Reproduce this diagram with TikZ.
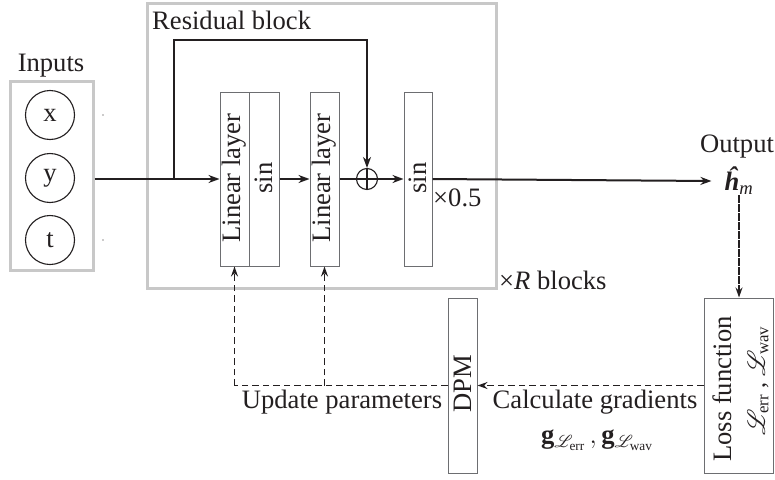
\RequirePackage{fix-cm}
\documentclass[tikz,border=0pt]{standalone}
\usepackage{fontspec}
\setmainfont{Liberation Serif}
\usepackage{amsmath}
\usepackage{mathrsfs}
\usetikzlibrary{arrows.meta,calc}
\definecolor{ink}{HTML}{231F20}
\definecolor{framegray}{HTML}{C8C8C8}
\definecolor{boxline}{HTML}{6D6E71}
\begin{document}
\begin{tikzpicture}[x=1pt,y=-1pt,
  font=\fontsize{26.6pt}{31pt}\selectfont,
  lay/.style={draw=boxline, line width=1pt, minimum width=29pt, minimum height=174pt, inner sep=0pt},
  gframe/.style={draw=framegray, line width=3pt, inner sep=0pt},
  incirc/.style={circle, draw=ink, line width=1.1pt, minimum size=49pt, inner sep=0pt, text=ink},
  conn/.style={draw=ink, line width=2pt, -{Stealth[length=11pt,width=8pt]}},
  plainconn/.style={draw=ink, line width=2pt},
  dconn/.style={draw=ink, line width=1.5pt, dash pattern=on 6.5pt off 4pt, -{Stealth[length=10pt,width=7pt]}},
  dline/.style={draw=ink, line width=1.5pt, dash pattern=on 6.5pt off 4pt},
  fineconn/.style={draw=ink, line width=1.2pt, dash pattern=on 8pt off 1pt, -{Stealth[length=10pt,width=7pt]}},
  lbl/.style={text=ink, inner sep=0pt}]
\useasboundingbox (0,0) rectangle (775,479);
\fill[white] (0,0) rectangle (775,479);

% frames
\node[gframe, minimum width=83pt, minimum height=189pt] (inputs) at (51.5,175.5) {};
\node[gframe, minimum width=349pt, minimum height=285pt] (resblock) at (321.5,145.5) {};
\node[lbl] (inputslbl) at (51,66) {Inputs};
\node[lbl, anchor=west] (reslbl) at (152,20) {Residual block};

% input circles
\node[incirc] (cx) at (50,115) {x};
\node[incirc] (cy) at (50,178) {y};
\node[incirc] (ct) at (50,240) {t};
\node[circle, fill=ink, inner sep=0pt, minimum size=1.2pt] (dot1) at (103,115) {};
\node[circle, fill=ink, inner sep=0pt, minimum size=1.2pt] (dot2) at (103,240) {};

% layers
\node[lay] (lin1) at (234.5,179) {};
\node[lay, minimum width=30pt] (sin1) at (264,179) {};
\node[lay] (lin2) at (324.5,179) {};
\node[lay, minimum width=28pt] (sin3) at (418,179) {};
\node[lbl, rotate=90] (lin1t) at (234.5,178) {Linear layer};
\node[lbl, rotate=90] (sin1t) at (264,178) {sin};
\node[lbl, rotate=90] (lin2t) at (324.5,178) {Linear layer};
\node[lbl, rotate=90] (sin3t) at (418,178) {sin};
\node[circle, draw=ink, line width=1.1pt, minimum size=21pt, inner sep=0pt] (plus) at (367,179) {};
\draw[ink, line width=1.1pt] (plus.north) -- (plus.south) (plus.west) -- (plus.east);

\node[lbl, anchor=west] (half) at (433,198) {×0.5};
\node[lbl, anchor=west] (rblocks) at (499,280) {×\textit{R} blocks};

% output
\node[lbl] (outlbl) at (737,147) {Output};
\node[text=ink, inner ysep=0pt, inner xsep=13pt] (hm) at (739,181) {{\bfseries\itshape ĥ}\textsubscript{\itshape m}};

% bottom boxes
\node[lay, minimum height=175pt] (dpm) at (462.5,385.5) {};
\node[lbl, rotate=90] (dpmt) at (462.5,384) {DPM};
\node[lay, minimum width=69pt, minimum height=175pt] (loss) at (738.5,385.5) {};
\node[lbl, rotate=90] (losst) at (722,389) {Loss function};
\node[lbl, rotate=90, font=\fontsize{24pt}{28pt}\selectfont] (lterms) at (758,381) {$\mathscr{L}_{\text{err}}$ , $\mathscr{L}_{\text{wav}}$};
\node[lbl] (updlbl) at (342,402) {Update parameters};
\node[lbl] (calclbl) at (595,402) {Calculate gradients};
\node[lbl] (glbl) at (597,440) {$\mathbf{g}_{\mathscr{L}_{\text{err}}}\,\mathbf{,}\,\mathbf{g}_{\mathscr{L}_{\text{wav}}}$};

% main flow
\coordinate (skipin) at (174,179);
\draw[plainconn] (inputs.east |- lin1.west) -- (skipin);
\draw[conn] (skipin) -- (lin1.west);
\draw[conn] (skipin) -- ++(0,-139) -| (plus.north);
\draw[conn] (sin1.east) -- (lin2.west);
\draw[plainconn] (lin2.east) -- (plus.west);
\draw[conn] (plus.east) -- (sin3.west);
\draw[conn] (sin3.east) -- (hm.west);

% feedback
\draw[fineconn] (hm.south) -- (hm.south |- loss.north);
\draw[dconn] (loss.west) -- (dpm.east);
\draw[dline] (dpm.west) -- (lin1.south |- dpm.west);
\draw[dconn] (lin1.south |- dpm.west) -- (lin1.south);
\draw[dconn] (lin2.south |- dpm.west) -- (lin2.south);
\end{tikzpicture}
\end{document}
